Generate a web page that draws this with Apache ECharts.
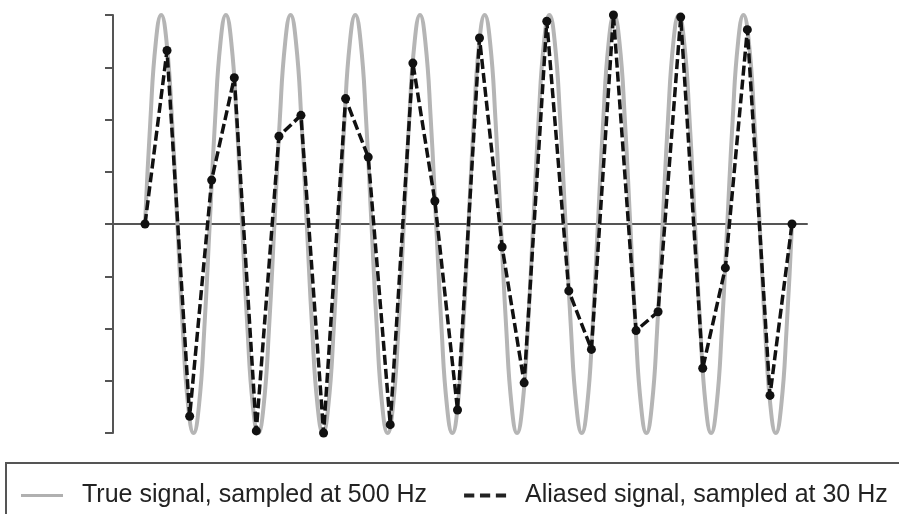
<!DOCTYPE html>
<html>
<head>
<meta charset="utf-8">
<script src="https://cdn.jsdelivr.net/npm/echarts@6/dist/echarts.min.js"></script>
<style>
  html, body { margin: 0; padding: 0; background: #fff; }
  #chart { width: 899px; height: 514px; }
</style>
</head>
<body>
<div id="chart"></div>
<script>
// one cycle of the true signal (12 points per cycle)
var trueCycle = [0, 0.5, 0.87, 1, 0.87, 0.5, 0, -0.5, -0.87, -1, -0.87, -0.5];
var trueCycles = 10;

// samples taken at 30 Hz (time in s, value)
var sampleTimes = [0, 0.034, 0.069, 0.103, 0.138, 0.172, 0.207, 0.241, 0.276, 0.310,
  0.345, 0.379, 0.414, 0.448, 0.483, 0.517, 0.552, 0.586, 0.621, 0.655,
  0.690, 0.724, 0.759, 0.793, 0.828, 0.862, 0.897, 0.931, 0.966, 1.0];
var sampleValues = [0, 0.83, -0.92, 0.21, 0.70, -0.99, 0.42, 0.52, -1.0, 0.60,
  0.32, -0.96, 0.77, 0.11, -0.89, 0.89, -0.11, -0.76, 0.97, -0.32,
  -0.60, 1.0, -0.51, -0.42, 0.99, -0.69, -0.21, 0.93, -0.82, 0];

var yTicks = [-1, -0.75, -0.5, -0.25, 0, 0.25, 0.5, 0.75, 1];

var trueName = 'True signal, sampled at 500 Hz';
var aliasName = 'Aliased signal, sampled at 30 Hz';

// build line data
var trueData = [];
var step = 1 / (trueCycles * trueCycle.length);
for (var c = 0; c < trueCycles; c++) {
  trueCycle.forEach(function (v, i) {
    trueData.push([(c * trueCycle.length + i) * step, v]);
  });
}
trueData.push([1, 0]);
var aliasData = sampleTimes.map(function (t, i) { return [t, sampleValues[i]]; });

var chart = echarts.init(document.getElementById('chart'), null, { renderer: 'canvas' });
chart.setOption({
  backgroundColor: '#fff',
  animation: false,
  textStyle: { fontFamily: 'Liberation Sans, Arial, sans-serif' },
  grid: { left: 113, right: 92, top: 15, bottom: 81 },
  xAxis: {
    type: 'value',
    min: -0.0495,
    max: 1.0232,
    axisLine: { onZero: true, lineStyle: { color: '#555', width: 2 } },
    axisTick: { show: false },
    axisLabel: { show: false },
    splitLine: { show: false }
  },
  yAxis: {
    type: 'value',
    min: yTicks[0],
    max: yTicks[yTicks.length - 1],
    interval: 0.25,
    axisLine: { show: true, onZero: false, lineStyle: { color: '#555', width: 2 } },
    axisTick: { show: true, length: 8, lineStyle: { color: '#555', width: 2 } },
    axisLabel: { show: false },
    splitLine: { show: false }
  },
  legend: {
    left: 16,
    top: 478,
    itemGap: 37,
    itemHeight: 12,
    itemWidth: 42,
    textStyle: { fontSize: 25, color: '#222', padding: [0, 0, 0, 14] },
    data: [
      { name: trueName, icon: 'path://M0,5h42v3h-42z', itemStyle: { color: '#b0b0b0' } },
      { name: aliasName, icon: 'path://M0,5h9v3.5h-9zM14,5h9v3.5h-9zM28,5h9v3.5h-9z', itemStyle: { color: '#222' } }
    ]
  },
  graphic: [{
    type: 'rect',
    shape: { x: 6, y: 463, width: 1000, height: 100 },
    style: { fill: 'none', stroke: '#555', lineWidth: 2 },
    silent: true
  }],
  series: [
    {
      name: trueName,
      type: 'line',
      data: trueData,
      smooth: true,
      showSymbol: false,
      lineStyle: { color: '#b5b5b5', width: 4 },
      itemStyle: { color: '#b5b5b5' },
      z: 1
    },
    {
      name: aliasName,
      type: 'line',
      data: aliasData,
      symbol: 'circle',
      symbolSize: 9,
      lineStyle: { color: '#111', width: 3.5, type: [10, 4] },
      itemStyle: { color: '#111' },
      z: 2
    }
  ]
});
</script>
</body>
</html>
